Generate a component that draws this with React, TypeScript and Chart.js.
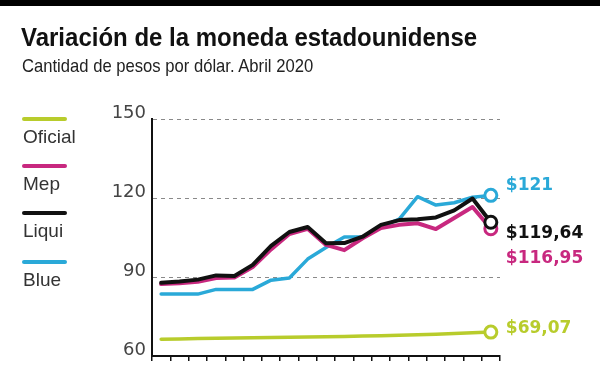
import React, { useEffect, useRef } from "react";
import { Chart, registerables } from "chart.js";

Chart.register(...registerables);

// Días hábiles de abril 2020
const days = ["1", "3", "6", "7", "8", "13", "14", "15", "16", "17", "20", "21", "22", "23", "24", "27", "28", "29", "30"];

const oficial = [66.4, 66.5, 66.6, 66.7, 66.8, 66.9, 67.0, 67.1, 67.2, 67.3, 67.4, 67.6, 67.7, 67.9, 68.1, 68.3, 68.5, 68.8, 69.07];
const mep = [87.3, 87.6, 88.2, 89.6, 89.8, 93.8, 100.5, 106.3, 108.3, 102.2, 100.2, 104.7, 108.6, 109.8, 110.4, 108.2, 112.4, 116.6, 108.3];
const liqui = [87.8, 88.3, 89.0, 90.6, 90.4, 94.6, 101.8, 107.1, 109.0, 102.8, 102.9, 105.3, 109.8, 111.6, 111.9, 112.6, 115.3, 119.8, 110.8];
const blue = [83.5, 83.5, 83.5, 85.3, 85.3, 85.3, 88.8, 89.6, 96.8, 101.2, 105.2, 105.3, 109.0, 112.0, 120.5, 117.3, 118.2, 120.3, 121];

const endLabels = ["$69,07", "$116,95", "$119,64", "$121"];
const yTicks = [60, 90, 120, 150];

const seriesNames = ["Oficial", "Mep", "Liqui", "Blue"];
const seriesColors = ["#b8cc2c", "#c8287f", "#111111", "#2aa9d8"];
const labelDy = [1, 34, 16, -5];

export default function App() {
  const ref = useRef<HTMLCanvasElement | null>(null);

  useEffect(() => {
    if (!ref.current) return;
    const n = days.length;
    const radius = (c: any) => (c.dataIndex === n - 1 ? 6 : 0);
    const seriesData = [oficial, mep, liqui, blue];
    const orders = [3, 1, 0, 2];
    const widths = [3.5, 4, 4, 3.5];

    const endLabelPlugin = {
      id: "endLabels",
      afterDatasetsDraw(chart: any) {
        const ctx = chart.ctx;
        ctx.save();
        ctx.font = "bold 17px 'DejaVu Sans', sans-serif";
        ctx.textAlign = "left";
        ctx.textBaseline = "alphabetic";
        chart.data.datasets.forEach((ds: any, i: number) => {
          const meta = chart.getDatasetMeta(i);
          const pt = meta.data[meta.data.length - 1];
          if (!pt) return;
          ctx.fillStyle = seriesColors[i];
          ctx.fillText(endLabels[i], pt.x + 15, pt.y + labelDy[i]);
        });
        ctx.restore();
      },
    };

    const chart = new Chart(ref.current, {
      type: "line",
      data: {
        labels: days,
        datasets: seriesNames.map((name, i) => ({
          label: name,
          data: seriesData[i],
          borderColor: seriesColors[i],
          borderWidth: widths[i],
          backgroundColor: "#ffffff",
          pointRadius: radius,
          pointHoverRadius: radius,
          pointBorderWidth: 3,
          pointBorderColor: seriesColors[i],
          pointBackgroundColor: "#ffffff",
          tension: 0,
          fill: false,
          order: orders[i],
          borderJoinStyle: "round" as const,
          borderCapStyle: "round" as const,
          clip: false as any,
        })),
      },
      options: {
        responsive: false,
        animation: false,
        events: [],
        layout: { padding: { left: 0, top: 119, right: 100, bottom: 4 } },
        plugins: {
          legend: { display: false },
          tooltip: { enabled: false },
          title: { display: false },
        },
        scales: {
          x: {
            type: "category",
            offset: true,
            grid: {
              offset: true,
              drawOnChartArea: false,
              drawTicks: true,
              tickLength: 5,
              color: "#111",
              lineWidth: 1.5,
            },
            border: { display: true, color: "#111", width: 2 },
            ticks: { display: false },
            afterFit: (s: any) => {
              s.height = 5;
              s.paddingLeft = 0;
              s.paddingRight = 0;
            },
          },
          y: {
            min: 60,
            max: 150,
            afterBuildTicks: (s: any) => {
              s.ticks = yTicks.map((v) => ({ value: v }));
            },
            grid: {
              drawTicks: false,
              color: (c: any) => (c.tick && c.tick.value === 60 ? "rgba(0,0,0,0)" : "#8a8a8a"),
              lineWidth: 1,
            },
            border: { display: true, color: "#111", width: 2, dash: [4, 4] },
            ticks: {
              padding: 6,
              labelOffset: -6,
              color: "#444",
              font: { family: "'DejaVu Sans', sans-serif", size: 18 },
            },
            afterFit: (s: any) => {
              s.width = 152;
              s.paddingTop = 0;
              s.paddingBottom = 0;
            },
          },
        },
      },
      plugins: [endLabelPlugin],
    } as any);
    return () => chart.destroy();
  }, []);

  const legendTop = [119, 166, 213, 262];

  return (
    <div
      style={{
        position: "absolute",
        left: 0,
        top: 0,
        width: 600,
        height: 365,
        background: "#ffffff",
        overflow: "hidden",
      }}
    >
      <div style={{ position: "absolute", left: 0, top: 0, width: 600, height: 6, background: "#000" }} />
      <canvas ref={ref} width={600} height={365} style={{ position: "absolute", left: 0, top: 0 }} />
      <div
        style={{
          position: "absolute",
          left: 21,
          top: 24,
          fontFamily: "'Liberation Sans', Arial, sans-serif",
          fontWeight: 700,
          fontSize: 26,
          lineHeight: "26px",
          color: "#111",
          whiteSpace: "nowrap",
          transform: "scaleX(0.923)",
          transformOrigin: "left top",
        }}
      >
        Variación de la moneda estadounidense
      </div>
      <div
        style={{
          position: "absolute",
          left: 22,
          top: 56,
          fontFamily: "'Liberation Sans', Arial, sans-serif",
          fontSize: 19,
          lineHeight: "19px",
          color: "#222",
          whiteSpace: "nowrap",
          transform: "scaleX(0.875)",
          transformOrigin: "left top",
        }}
      >
        Cantidad de pesos por dólar. Abril 2020
      </div>
      {seriesNames.map((name, i) => (
        <div key={name}>
          <div
            style={{
              position: "absolute",
              left: 22,
              top: legendTop[i] - 2,
              width: 45,
              height: 4,
              borderRadius: 2,
              background: seriesColors[i],
            }}
          />
          <div
            style={{
              position: "absolute",
              left: 23,
              top: legendTop[i] + 8,
              fontFamily: "'Liberation Sans', Arial, sans-serif",
              fontSize: 19,
              lineHeight: "19px",
              color: "#333",
              whiteSpace: "nowrap",
            }}
          >
            {name}
          </div>
        </div>
      ))}
    </div>
  );
}
